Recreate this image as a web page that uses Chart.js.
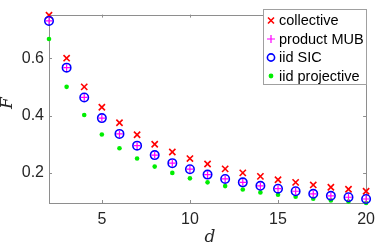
<!DOCTYPE html>
<html>
<head>
<meta charset="utf-8">
<script src="https://cdn.jsdelivr.net/npm/chart.js@4"></script>
<style>
  html, body { margin: 0; padding: 0; background: #fff; }
  #wrap { width: 382px; height: 246px; position: relative; }
</style>
</head>
<body>
<div id="wrap"><canvas id="chart" width="382" height="246"></canvas></div>
<script>
// ---- data ----
const dims = [2, 3, 4, 5, 6, 7, 8, 9, 10, 11, 12, 13, 14, 15, 16, 17, 18, 19, 20];
const collective    = [0.750, 0.600, 0.500, 0.429, 0.375, 0.333, 0.300, 0.273, 0.250, 0.231, 0.214, 0.200, 0.188, 0.176, 0.167, 0.158, 0.150, 0.143, 0.136];
const productMUB    = [0.730, 0.567, 0.463, 0.391, 0.336, 0.295, 0.262, 0.234, 0.213, 0.194, 0.179, 0.167, 0.155, 0.145, 0.136, 0.127, 0.120, 0.115, 0.109];
const iidSIC        = [0.730, 0.567, 0.463, 0.391, 0.336, 0.295, 0.262, 0.234, 0.213, 0.194, 0.179, 0.167, 0.155, 0.145, 0.136, 0.127, 0.120, 0.115, 0.109];
const iidProjective = [0.667, 0.500, 0.402, 0.334, 0.286, 0.250, 0.222, 0.200, 0.181, 0.167, 0.154, 0.142, 0.132, 0.124, 0.117, 0.110, 0.104, 0.100, 0.095];
const xTicks = [5, 10, 15, 20];
const yTicks = [0.2, 0.4, 0.6];
const seriesNames = ['collective', 'product MUB', 'iid SIC', 'iid projective'];

const AXIS = '#8e8e8e';
const TXT = '#262626';
const FONT = '"Liberation Sans", Arial, Helvetica, sans-serif';

const pts = ys => dims.map((d, i) => ({ x: d, y: ys[i] }));

// box around the axes + inward ticks on all four sides (MATLAB "box on")
const boxPlugin = {
  id: 'box',
  beforeDatasetsDraw(chart) {
    const { ctx, chartArea: a, scales: { x, y } } = chart;
    const tl = 3;
    ctx.save();
    ctx.strokeStyle = AXIS;
    ctx.lineWidth = 1;
    ctx.strokeRect(Math.round(a.left) + 0.5, Math.round(a.top) + 0.5,
                   Math.round(a.right - a.left), Math.round(a.bottom - a.top));
    ctx.beginPath();
    xTicks.forEach(v => {
      const px = Math.round(x.getPixelForValue(v)) + 0.5;
      ctx.moveTo(px, a.bottom); ctx.lineTo(px, a.bottom - tl);
      ctx.moveTo(px, a.top); ctx.lineTo(px, a.top + tl);
    });
    yTicks.forEach(v => {
      const py = Math.round(y.getPixelForValue(v)) + 0.5;
      ctx.moveTo(a.left, py); ctx.lineTo(a.left + tl, py);
      ctx.moveTo(a.right, py); ctx.lineTo(a.right - tl, py);
    });
    ctx.stroke();
    ctx.restore();
  },
};

function drawMarker(ctx, kind, cx, cy) {
  ctx.beginPath();
  if (kind === 'x') {
    ctx.strokeStyle = '#ff0000'; ctx.lineWidth = 1.6;
    ctx.moveTo(cx - 3, cy - 3); ctx.lineTo(cx + 3, cy + 3);
    ctx.moveTo(cx - 3, cy + 3); ctx.lineTo(cx + 3, cy - 3);
    ctx.stroke();
  } else if (kind === '+') {
    ctx.strokeStyle = '#ff00ff'; ctx.lineWidth = 1.2;
    ctx.moveTo(cx - 4, cy); ctx.lineTo(cx + 4, cy);
    ctx.moveTo(cx, cy - 4); ctx.lineTo(cx, cy + 4);
    ctx.stroke();
  } else if (kind === 'o') {
    ctx.strokeStyle = '#0000ff'; ctx.lineWidth = 1.6;
    ctx.arc(cx, cy, 3.6, 0, Math.PI * 2);
    ctx.stroke();
  } else {
    ctx.fillStyle = '#00ee00';
    ctx.arc(cx, cy, 2.4, 0, Math.PI * 2);
    ctx.fill();
  }
}

// legend box in the upper right corner
const legendPlugin = {
  id: 'boxLegend',
  afterDraw(chart) {
    const { ctx } = chart;
    const kinds = ['x', '+', 'o', '.'];
    ctx.save();
    ctx.fillStyle = '#fff';
    ctx.fillRect(263, 9, 103, 75);
    ctx.strokeStyle = '#a0a0a0';
    ctx.lineWidth = 1;
    ctx.strokeRect(263.5, 9.5, 103, 75);
    seriesNames.forEach((name, i) => {
      const cy = 20.5 + i * 18.5;
      drawMarker(ctx, kinds[i], 271, cy);
      ctx.fillStyle = '#000';
      ctx.font = '14.5px ' + FONT;
      ctx.textBaseline = 'middle';
      ctx.textAlign = 'left';
      ctx.fillText(name, 279, cy + 0.5);
    });
    // axis labels (italic serif like LaTeX)
    ctx.fillStyle = TXT;
    ctx.font = 'italic 17px "DejaVu Serif", "Liberation Serif", serif';
    ctx.textAlign = 'center';
    ctx.textBaseline = 'middle';
    ctx.fillText('d', 210, 238);
    ctx.translate(8, 103);
    ctx.rotate(-Math.PI / 2);
    ctx.fillText('F', 0, 0);
    ctx.restore();
  },
};

new Chart(document.getElementById('chart'), {
  type: 'scatter',
  data: {
    datasets: [
      { label: seriesNames[0], data: pts(collective), pointStyle: 'crossRot', radius: 4.4,
        borderColor: '#ff0000', borderWidth: 1.6, clip: false, order: 4 },
      { label: seriesNames[1], data: pts(productMUB), pointStyle: 'cross', radius: 3.4,
        borderColor: '#ff00ff', borderWidth: 1.2, clip: false, order: 1 },
      { label: seriesNames[2], data: pts(iidSIC), pointStyle: 'circle', radius: 4.2,
        borderColor: '#0000ff', backgroundColor: 'rgba(0,0,0,0)', borderWidth: 1.6, clip: false, order: 2 },
      { label: seriesNames[3], data: pts(iidProjective), pointStyle: 'circle', radius: 2.3,
        borderColor: '#00ee00', backgroundColor: '#00ee00', borderWidth: 0, clip: false, order: 3 },
    ],
  },
  options: {
    responsive: false,
    animation: false,
    layout: { padding: { top: 3, right: 10, left: 0, bottom: 0 } },
    plugins: { legend: { display: false }, tooltip: { enabled: false } },
    elements: { point: { hoverRadius: 4 } },
    scales: {
      x: {
        type: 'linear', min: 2, max: 20,
        grid: { display: false, drawTicks: false },
        border: { display: false },
        afterBuildTicks: s => { s.ticks = xTicks.map(v => ({ value: v })); },
        afterFit: s => { s.height = 43; },
        ticks: { color: TXT, font: { family: FONT, size: 16 }, padding: 7, maxRotation: 0 },
      },
      y: {
        type: 'linear', min: 0.095, max: 0.752,
        grid: { display: false, drawTicks: false },
        border: { display: false },
        afterBuildTicks: s => { s.ticks = yTicks.map(v => ({ value: v })); },
        afterFit: s => { s.width = 49; },
        ticks: { color: TXT, font: { family: FONT, size: 16 }, padding: 5,
                 callback: v => v.toFixed(1) },
      },
    },
  },
  plugins: [boxPlugin, legendPlugin],
});
</script>
</body>
</html>
